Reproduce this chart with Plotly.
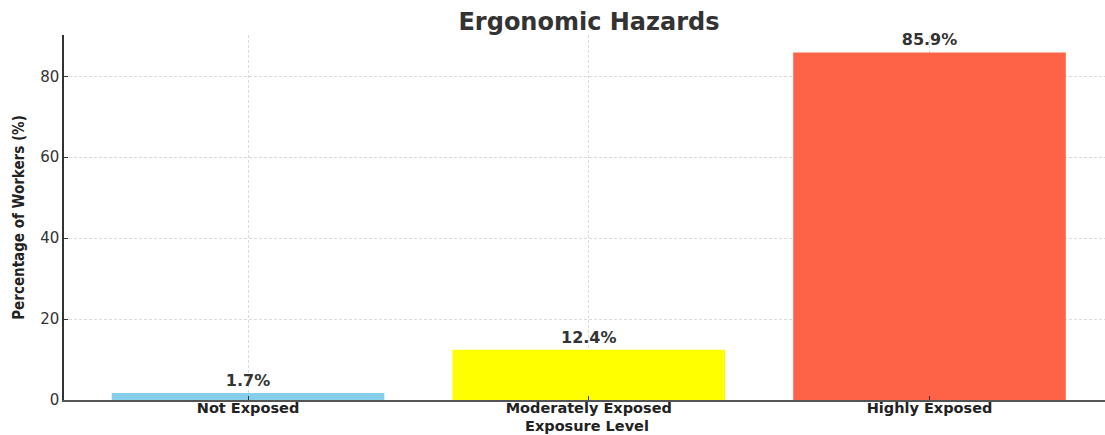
import plotly.graph_objects as go

# Share of workers by ergonomic exposure level
categories = ["Not Exposed", "Moderately Exposed", "Highly Exposed"]
percentages = [1.7, 12.4, 85.9]
bar_colors = ["#87CEEB", "#FFFF00", "#FF6347"]
y_ticks = [0, 20, 40, 60, 80]

labels = [f"{v}%" for v in percentages]

fig = go.Figure(
    go.Bar(
        x=categories,
        y=percentages,
        marker=dict(color=bar_colors, line=dict(width=0)),
        width=0.8,
        text=labels,
        textposition="outside",
        cliponaxis=False,
        textfont=dict(family="DejaVu Sans", size=16, color="#333333", weight="bold"),
    )
)

grid_style = dict(showgrid=True, gridcolor="#dadada", griddash="3px,2px", gridwidth=1)

fig.update_layout(
    width=1105,
    height=435,
    margin=dict(l=64, r=0, t=35, b=35),
    paper_bgcolor="white",
    plot_bgcolor="white",
    showlegend=False,
    title=dict(
        text="<b>Ergonomic Hazards</b>",
        x=589 / 1105,
        xanchor="center",
        y=1 - 22 / 435,
        yanchor="middle",
        font=dict(family="DejaVu Sans", size=24, color="#333333"),
    ),
    annotations=[
        dict(
            text="<b>Exposure Level</b>",
            xref="paper",
            yref="paper",
            x=0.5023,
            y=-26 / 365,
            xanchor="center",
            yanchor="middle",
            showarrow=False,
            font=dict(family="DejaVu Sans", size=14.5, color="#222222"),
        )
    ],
)

fig.update_xaxes(
    range=[-0.54, 2.515],
    showline=True,
    linecolor="#555555",
    linewidth=1.5,
    ticks="inside",
    ticklen=4,
    tickcolor="#333333",
    ticklabelstandoff=-6,
    layer="above traces",
    tickfont=dict(family="DejaVu Sans", size=14.5, color="#222222", weight="bold"),
    **grid_style,
)

fig.update_yaxes(
    range=[0, 90.2],
    tickvals=y_ticks,
    showline=True,
    linecolor="#333333",
    linewidth=1.5,
    ticks="inside",
    ticklen=4,
    tickcolor="#333333",
    zeroline=False,
    layer="above traces",
    tickfont=dict(family="DejaVu Sans", size=15, color="#333333"),
    title=dict(
        text="<b>Percentage of Workers (%)</b>",
        standoff=12,
        font=dict(family="DejaVu Sans Condensed, DejaVu Sans", size=15, color="#222222"),
    ),
    **grid_style,
)

fig.write_html("out.html")
